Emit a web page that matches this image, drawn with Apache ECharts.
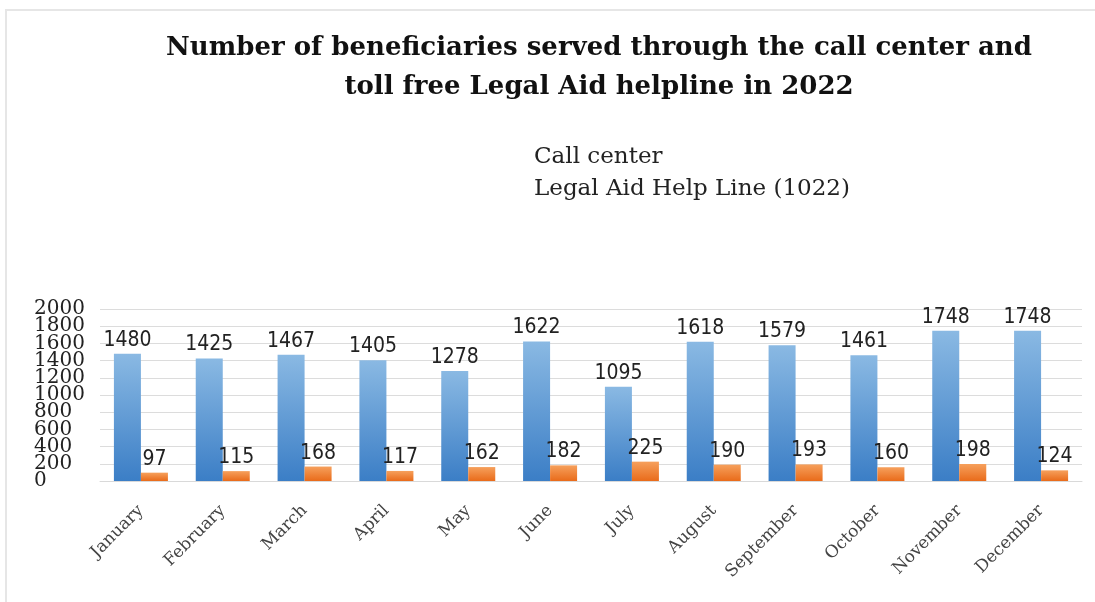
<!DOCTYPE html>
<html>
<head>
<meta charset="utf-8">
<script src="https://cdn.jsdelivr.net/npm/echarts@6/dist/echarts.min.js"></script>
<style>
  html, body { margin: 0; padding: 0; background: #fff; }
  #chart { width: 1095px; height: 602px; }
</style>
</head>
<body>
<div id="chart"></div>
<script>
var months = ['January', 'February', 'March', 'April', 'May', 'June', 'July',
    'August', 'September', 'October', 'November', 'December'];
var callCenter = [1480, 1425, 1467, 1405, 1278, 1622, 1095, 1618, 1579, 1461, 1748, 1748];
var helpLine = [97, 115, 168, 117, 162, 182, 225, 190, 193, 160, 198, 124];
var seriesNames = ['Call center', 'Legal Aid Help Line (1022)'];
var yMin = 0;
var yMax = 2000;
var yStep = 200;

function grad(top, bottom) {
    return new echarts.graphic.LinearGradient(0, 0, 0, 1, [
        { offset: 0, color: top },
        { offset: 1, color: bottom }
    ]);
}

var labelStyle = {
    show: true,
    position: 'top',
    distance: 3,
    color: '#222',
    fontFamily: 'DejaVu Sans Condensed, DejaVu Sans',
    fontSize: 21
};

var yLabelBase = {
    align: 'left',
    margin: 66,
    hideOverlap: false,
    color: '#222',
    fontFamily: 'DejaVu Serif',
    fontSize: 20
};

// the labels overlap like in the picture, so the ends go on a second, label-only axis
var chart = echarts.init(document.getElementById('chart'));
chart.setOption({
    animation: false,
    backgroundColor: '#fff',
    graphic: [{
        type: 'rect',
        shape: { x: 6, y: 10, width: 1100, height: 600 },
        style: { fill: 'none', stroke: '#e6e6e6', lineWidth: 2 },
        silent: true
    }],
    title: {
        text: 'Number of beneficiaries served through the call center and\ntoll free Legal Aid helpline in 2022',
        left: 594,
        top: 24,
        textAlign: 'center',
        textStyle: {
            fontFamily: 'DejaVu Serif',
            fontWeight: 'bold',
            fontSize: 26,
            lineHeight: 39,
            color: '#111'
        }
    },
    legend: {
        data: seriesNames,
        orient: 'vertical',
        left: 524,
        top: 141,
        itemWidth: 0,
        itemHeight: 0,
        itemGap: 9,
        selectedMode: false,
        textStyle: {
            fontFamily: 'DejaVu Serif',
            fontSize: 23,
            color: '#222'
        }
    },
    grid: { left: 100, right: 13, top: 309, bottom: 121 },
    xAxis: {
        type: 'category',
        data: months,
        axisTick: { show: false },
        axisLine: { lineStyle: { color: '#d9d9d9', width: 1 } },
        axisLabel: {
            rotate: 45,
            margin: 27,
            interval: 0,
            color: '#444',
            fontFamily: 'DejaVu Serif',
            fontSize: 17
        }
    },
    yAxis: [{
        type: 'value',
        min: yMin,
        max: yMax,
        interval: yStep,
        axisLine: { show: false },
        axisTick: { show: false },
        splitLine: { lineStyle: { color: '#dcdcdc', width: 1 } },
        axisLabel: Object.assign({}, yLabelBase, {
            showMinLabel: false,
            showMaxLabel: false,
            formatter: function (v) { return String(v); }
        })
    }, {
        type: 'value',
        position: 'left',
        min: yMin,
        max: yMax,
        interval: yStep,
        axisLine: { show: false },
        axisTick: { show: false },
        splitLine: { show: false },
        axisLabel: Object.assign({}, yLabelBase, {
            showMinLabel: true,
            showMaxLabel: true,
            formatter: function (v) {
                return (v === yMin || v === yMax) ? String(v) : '';
            }
        })
    }],
    series: [{
        name: seriesNames[0],
        type: 'bar',
        data: callCenter,
        barGap: '0%',
        barCategoryGap: '34%',
        itemStyle: { color: grad('#8ab9e3', '#3b7ec6') },
        label: labelStyle
    }, {
        name: seriesNames[1],
        type: 'bar',
        data: helpLine,
        itemStyle: { color: grad('#f6a05c', '#e96b1a') },
        label: labelStyle
    }]
});
</script>
</body>
</html>
